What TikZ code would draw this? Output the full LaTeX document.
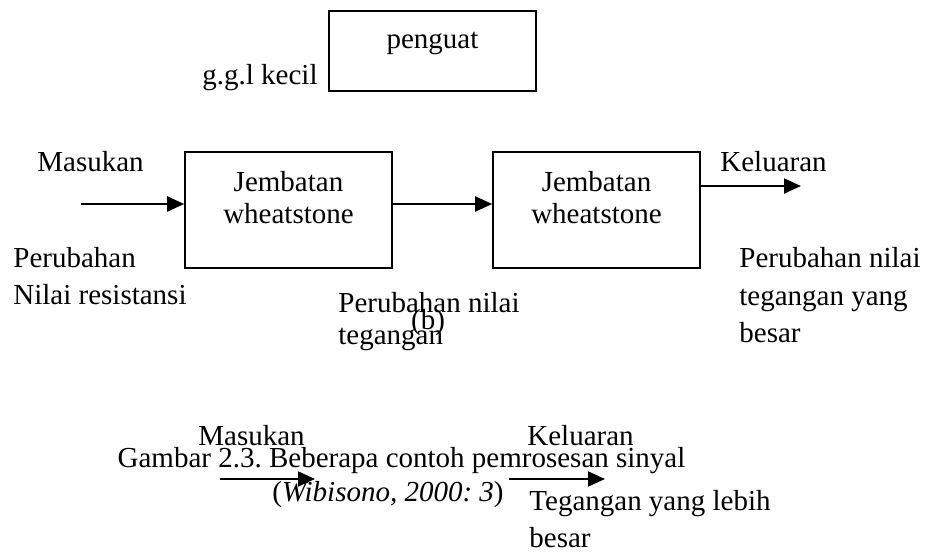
\documentclass[tikz,border=0pt]{standalone}
\usepackage{fontspec}
\setmainfont{Liberation Serif}
\usetikzlibrary{arrows.meta,positioning}
\frenchspacing
\tikzset{
  blok/.style={draw, line width=0.8pt, minimum width=103.5pt, minimum height=58pt, inner sep=0pt},
  teks/.style={inner sep=0pt, anchor=base west, align=left, font=\fontsize{14.5}{18.5}\selectfont},
  isi/.style={inner sep=0pt, align=center, font=\fontsize{14.5}{16}\selectfont},
  panah/.style={-{Triangle[length=8.5pt,width=7.5pt]}, line width=1pt}
}
\begin{document}
\begin{tikzpicture}[x=0.5pt,y=-0.5pt]
    \useasboundingbox (0,0) rectangle (926,555);
    % Define the blocks
    \node[blok, minimum height=40pt] (penguat) at (432.5,51) {};
    \node[blok] (jembatan1) at (288.5,210) {};
    \node[blok] (jembatan2) at (596.5,210) {};
    \node[isi, below=11pt of penguat.north] (penguat-teks) {penguat};
    \foreach \b in {jembatan1,jembatan2} {
        \node[isi, below=10pt of \b.north] (\b-teks) {Jembatan\\wheatstone};
    }
    % Add arrows
    \coordinate (masuk) at (81,204);
    \coordinate (keluar) at (801,186);
    \draw[panah] (masuk) -- (masuk -| jembatan1.west);
    \draw[panah] (masuk -| jembatan1.east) -- (masuk -| jembatan2.west);
    \draw[panah] (keluar -| jembatan2.east) -- (keluar);
    \coordinate (masuk2a) at (220,479);
    \coordinate (masuk2b) at (315,479);
    \coordinate (keluar2a) at (509,479);
    \coordinate (keluar2b) at (605,479);
    \draw[panah] (masuk2a) -- (masuk2b);
    \draw[panah] (keluar2a) -- (keluar2b);
    % Add labels (base = last line)
    \node[teks] (ggl) at (202,85) {g.g.l kecil};
    \node[teks] (masukan) at (37,172) {Masukan};
    \node[teks] (keluaran) at (720,172) {Keluaran};
    \node[teks] (resistansi) at (13,305) {Perubahan\\Nilai resistansi};
    \node[teks, font=\fontsize{14.5}{16}\selectfont] (tegangan) at (338,345) {Perubahan nilai\\tegangan};
    \node[teks, anchor=base] (b) at (428,330) {(b)};
    \node[teks, font=\fontsize{14.5}{18.75}\selectfont] (besar) at (739,343) {Perubahan nilai\\tegangan yang\\besar};
    \node[teks] (masukan2) at (198,445) {Masukan};
    \node[teks] (keluaran2) at (527,445) {Keluaran};
    \node[teks, anchor=base] (gambar) at (401.5,467) {Gambar 2.3. Beberapa contoh pemrosesan sinyal};
    \node[teks, anchor=base] (sumber) at (388,502) {(\textit{Wibisono, 2000: 3})};
    \node[teks] (lebih) at (529,547) {Tegangan yang lebih\\besar};
\end{tikzpicture}
\end{document}
